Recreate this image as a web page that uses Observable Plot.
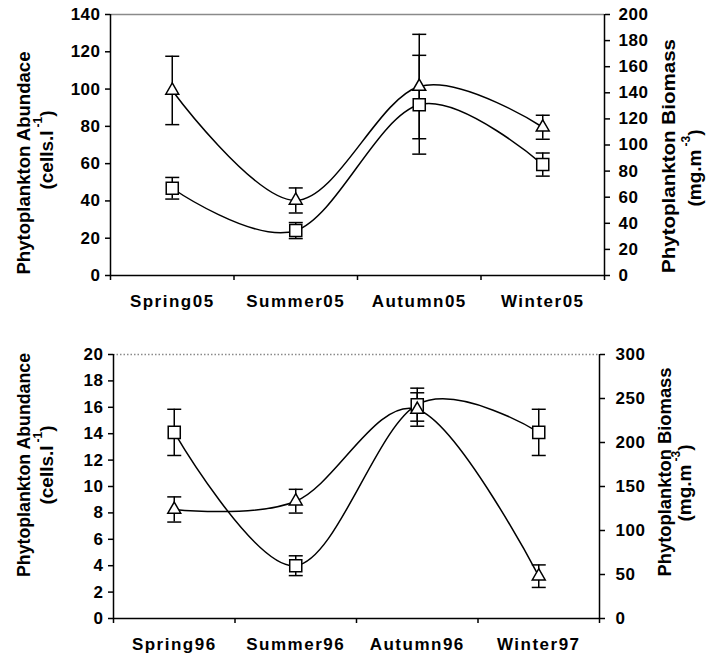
<!DOCTYPE html>
<html>
<head>
<meta charset="utf-8">
<script src="https://cdn.jsdelivr.net/npm/d3@7"></script>
<script src="https://cdn.jsdelivr.net/npm/@observablehq/plot@0.6"></script>
<style>
  html, body { margin: 0; padding: 0; background: white; }
  #chart { width: 711px; }
  #chart svg { display: block; }
</style>
</head>
<body>
<div id="chart"></div>
<script>
// ---------- data: panel 1 (2005) ----------
const categories05 = ["Spring05", "Summer05", "Autumn05", "Winter05"];
const abundance05 = [46.8, 24.1, 91.6, 59.5];        // squares, left axis (cells.l-1)
const abundanceErr05 = [5.8, 4.3, 26.5, 6.2];
const biomass05 = [141.8, 57.5, 144.8, 113.6];       // triangles, right axis (mg.m-3)
const biomassErr05 = [26.2, 9.6, 40, 9.2];
const leftTicks05 = [0, 20, 40, 60, 80, 100, 120, 140];
const rightTicks05 = [0, 20, 40, 60, 80, 100, 120, 140, 160, 180, 200];

// ---------- data: panel 2 (1996-97) ----------
const categories96 = ["Spring96", "Summer96", "Autumn96", "Winter97"];
const abundance96 = [14.1, 4.0, 16.2, 14.1];         // squares, left axis
const abundanceErr96 = [1.75, 0.75, 1.25, 1.75];
const biomass96 = [123.9, 133.3, 237.5, 48.1];       // triangles, right axis
const biomassErr96 = [14.3, 13.5, 19, 12.8];
const leftTicks96 = [0, 2, 4, 6, 8, 10, 12, 14, 16, 18, 20];
const rightTicks96 = [0, 50, 100, 150, 200, 250, 300];

const FONT = "'Liberation Sans', Arial, Helvetica, sans-serif";
const capSymbol = { draw(ctx) { ctx.moveTo(-7, 0); ctx.lineTo(7, 0); } };

function panel(cfg) {
  const lmax = cfg.leftTicks[cfg.leftTicks.length - 1];
  const rmax = cfg.rightTicks[cfg.rightTicks.length - 1];
  const k = lmax / rmax;
  const n = cfg.cats.length;
  const rows = cfg.cats.map((c, i) => ({
    cat: c, pos: i + 0.5,
    a: cfg.abund[i], ae: cfg.abundErr[i],
    b: cfg.bio[i] * k, be: cfg.bioErr[i] * k
  }));
  const bounds = d3.range(n + 1);
  const black = { stroke: "black", strokeWidth: 1.5 };
  const svg = Plot.plot({
    width: 711, height: 330,
    marginTop: cfg.m[0], marginRight: cfg.m[1], marginBottom: cfg.m[2], marginLeft: cfg.m[3],
    x: { domain: [0, n] },
    y: { domain: [0, lmax] },
    style: { fontFamily: FONT, fontSize: "17px", fontWeight: "bold", color: "black", background: "white", overflow: "visible", letterSpacing: "1.5px" },
    marks: [
      Plot.ruleY([lmax], { stroke: "#8a8a8a", strokeWidth: 1.5, strokeDasharray: cfg.dash }),
      Plot.line(rows, { x: "pos", y: "a", curve: "cardinal", ...black }),
      Plot.line(rows, { x: "pos", y: "b", curve: "cardinal", ...black }),
      Plot.ruleX(rows, { x: "pos", y1: d => d.a - d.ae, y2: d => d.a + d.ae, ...black }),
      Plot.ruleX(rows, { x: "pos", y1: d => d.b - d.be, y2: d => d.b + d.be, ...black }),
      Plot.dot(rows, { x: "pos", y: d => d.a - d.ae, symbol: capSymbol, ...black }),
      Plot.dot(rows, { x: "pos", y: d => d.a + d.ae, symbol: capSymbol, ...black }),
      Plot.dot(rows, { x: "pos", y: d => d.b - d.be, symbol: capSymbol, ...black }),
      Plot.dot(rows, { x: "pos", y: d => d.b + d.be, symbol: capSymbol, ...black }),
      Plot.dot(rows, { x: "pos", y: "a", symbol: "square", r: 6.8, fill: "white", ...black }),
      Plot.dot(rows, { x: "pos", y: "b", symbol: "triangle", r: 4.8, fill: "white", ...black }),
      Plot.ruleX([0], black),
      Plot.ruleX([n], black),
      Plot.ruleY([0], black),
      Plot.axisY({ anchor: "left", ticks: cfg.leftTicks, tickSize: 5, tickPadding: 5, label: null, strokeWidth: 1.5 }),
      Plot.axisY({ anchor: "right", ticks: cfg.rightTicks.map(v => v * k), tickFormat: v => String(Math.round(v / k)), tickSize: 5, tickPadding: cfg.rpad, label: null, strokeWidth: 1.5 }),
      Plot.axisX({ ticks: bounds, tickFormat: () => "", tickSize: 5, label: null, strokeWidth: 1.5 }),
      Plot.axisX({ ticks: rows.map(d => d.pos), tickFormat: v => cfg.cats[Math.floor(v)], tickSize: 0, tickPadding: 19, label: null })
    ]
  });

  const s = d3.select(svg);
  s.selectAll("g[aria-label='y-axis tick label'] text").style("letter-spacing", "0.5px");
  function vtitle(t) {
    const g = s.append("text")
      .attr("transform", `translate(${t.x},${t.y}) rotate(-90)`)
      .attr("text-anchor", "middle")
      .attr("dominant-baseline", "central")
      .style("font-family", FONT).style("font-weight", "bold")
      .style("font-size", t.size + "px").style("letter-spacing", "0px")
      .attr("fill", "black");
    if (t.sup) {
      g.append("tspan").text(t.text);
      g.append("tspan").attr("dx", 3).attr("dy", -8).style("font-size", "12px").text(t.sup);
      g.append("tspan").attr("dy", 8).text(")");
    } else {
      g.text(t.text);
      if (t.len) g.attr("textLength", t.len).attr("lengthAdjust", "spacingAndGlyphs");
    }
  }
  cfg.titles.forEach(vtitle);
  return svg;
}

const chart = document.getElementById("chart");
chart.appendChild(panel({
  cats: categories05, abund: abundance05, abundErr: abundanceErr05, bio: biomass05, bioErr: biomassErr05,
  leftTicks: leftTicks05, rightTicks: rightTicks05,
  m: [14, 107, 55, 110], rpad: 9, dash: null,
  titles: [
    { x: 23, y: 163, text: "Phytoplankton Abundace", size: 19, len: 223 },
    { x: 46, y: 150, text: "(cells.l", sup: "-1", size: 19 },
    { x: 668, y: 156, text: "Phytoplankton Biomass", size: 19, len: 234 },
    { x: 694, y: 168, text: "(mg.m", sup: "-3", size: 19 }
  ]
}));
chart.appendChild(panel({
  cats: categories96, abund: abundance96, abundErr: abundanceErr96, bio: biomass96, bioErr: biomassErr96,
  leftTicks: leftTicks96, rightTicks: rightTicks96,
  m: [24, 112, 42, 113], rpad: 11, dash: "1.5,2",
  titles: [
    { x: 23, y: 135, text: "Phytoplankton Abundance", size: 19, len: 224 },
    { x: 46, y: 135, text: "(cells.l", sup: "-1", size: 19 },
    { x: 664, y: 142, text: "Phytoplankton Biomass", size: 19, len: 209 },
    { x: 684, y: 153, text: "(mg.m", sup: "-3", size: 19 }
  ]
}));
</script>
</body>
</html>
